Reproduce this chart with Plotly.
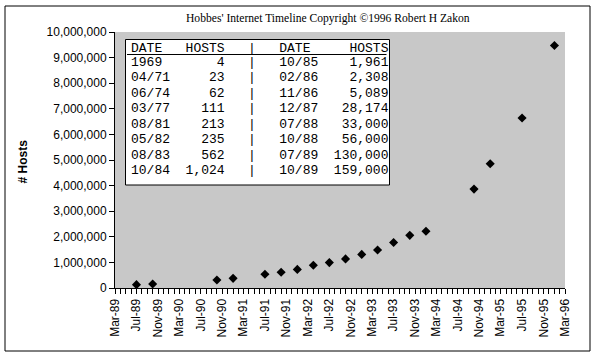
import plotly.graph_objects as go

# ---- data ----
dates = ["1989-07-01", "1989-10-01", "1990-10-01", "1991-01-01", "1991-07-01",
         "1991-10-01", "1992-01-01", "1992-04-01", "1992-07-01", "1992-10-01",
         "1993-01-01", "1993-04-01", "1993-07-01", "1993-10-01", "1994-01-01",
         "1994-10-01", "1995-01-01", "1995-07-01", "1996-01-01"]
hosts = [130000, 159000, 313000, 376000, 535000, 617000, 727000, 890000,
         992000, 1136000, 1313000, 1486000, 1776000, 2056000, 2217000,
         3864000, 4852000, 6642000, 9472000]

table_dates_left = ["1969", "04/71", "06/74", "03/77", "08/81", "05/82", "08/83", "10/84"]
table_hosts_left = [4, 23, 62, 111, 213, 235, 562, 1024]
table_dates_right = ["10/85", "02/86", "11/86", "12/87", "07/88", "10/88", "07/89", "10/89"]
table_hosts_right = [1961, 2308, 5089, 28174, 33000, 56000, 130000, 159000]

title_text = "Hobbes' Internet Timeline Copyright ©1996 Robert H Zakon"
y_title = "# Hosts"

# ---- geometry (pixels) ----
W, H = 597, 357
L, R, T, B = 115, 565, 32, 288
PW, PH = R - L, B - T


def px(x):
    return (x - L) / PW


def py(y):
    return (B - y) / PH


fig = go.Figure()
fig.add_trace(go.Scatter(
    x=dates, y=hosts, mode="markers",
    marker=dict(symbol="diamond", size=7, color="black"),
    showlegend=False, cliponaxis=False, hoverinfo="skip",
))

NB = "\u00a0"


def row_text(a, b, c, d):
    s = f"{a:<5}{b:>7}   |   {c:<5}{d:>9}"
    return s.replace(" ", NB)


annotations = []
mono = dict(family="Liberation Mono, Courier New, monospace", size=13, color="black")
header = row_text("DATE", "HOSTS", "DATE", "HOSTS")
annotations.append(dict(x=px(129.3), y=py(48.8), xref="paper", yref="paper",
                        text=header, showarrow=False, xanchor="left",
                        yanchor="middle", font=mono))
for i in range(len(table_dates_left)):
    t = row_text(table_dates_left[i], f"{table_hosts_left[i]:,}",
                 table_dates_right[i], f"{table_hosts_right[i]:,}")
    annotations.append(dict(x=px(129.3), y=py(62.2 + i * 15.51), xref="paper",
                            yref="paper", text=t, showarrow=False,
                            xanchor="left", yanchor="middle", font=mono))

annotations.append(dict(x=px(327.5), y=py(18), xref="paper", yref="paper",
                        text=title_text, showarrow=False, xanchor="center",
                        yanchor="middle",
                        font=dict(family="Liberation Serif, Times New Roman, serif",
                                  size=11.6, color="black")))
annotations.append(dict(x=px(22.5), y=py(162), xref="paper", yref="paper",
                        text="<b>" + y_title + "</b>", showarrow=False,
                        textangle=-90, xanchor="center", yanchor="middle",
                        font=dict(family="Liberation Sans, Arial, sans-serif",
                                  size=12, color="black")))

shapes = [
    # outer chart border
    dict(type="rect", xref="paper", yref="paper", x0=px(5), x1=px(590),
         y0=py(351), y1=py(6), line=dict(color="black", width=1)),
    # table box
    dict(type="rect", xref="paper", yref="paper", x0=px(125.5), x1=px(389.5),
         y0=py(185), y1=py(39.5), line=dict(color="black", width=1),
         fillcolor="white", layer="below"),
    # header underline
    dict(type="line", xref="paper", yref="paper", x0=px(127), x1=px(386.5),
         y0=py(54.5), y1=py(54.5), line=dict(color="black", width=1)),
]

sans = dict(family="Liberation Sans, Arial, sans-serif", size=12, color="black")
fig.update_layout(
    width=W, height=H,
    margin=dict(l=L, r=W - R, t=T, b=H - B),
    paper_bgcolor="white", plot_bgcolor="#c8c8c8",
    font=sans, hovermode=False,
    annotations=annotations, shapes=shapes,
    xaxis=dict(type="date", range=["1989-03-01", "1996-03-01"],
               tick0="1989-03-01", dtick="M4", tickformat="%b-%y",
               tickangle=-90, ticks="outside", ticklen=5, tickcolor="black",
               showline=True, linecolor="black", linewidth=1,
               showgrid=False, zeroline=False, tickfont=sans,
               minor=dict(dtick="M1", ticks="outside", ticklen=5,
                          tickcolor="black", showgrid=False)),
    yaxis=dict(range=[0, 10000000], dtick=1000000, tickformat=",d",
               ticks="outside", ticklen=5, tickcolor="black",
               showline=True, linecolor="black", linewidth=1,
               showgrid=False, zeroline=False, tickfont=sans),
)

fig.write_html("out.html",
               config={"displayModeBar": False, "staticPlot": True},
               post_script="document.body.style.margin='0';document.body.style.padding='0';")
